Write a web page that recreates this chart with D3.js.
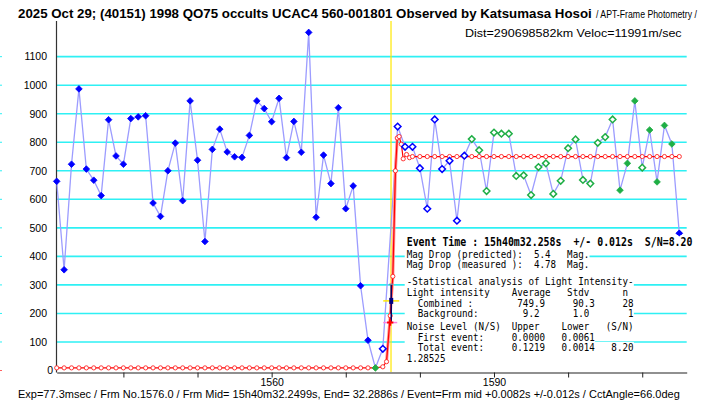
<!DOCTYPE html>
<meta charset="utf-8">
<script src="https://d3js.org/d3.v7.min.js"></script>
<style>
  body { margin: 0; background: #fff; }
  svg text { font-family: "Liberation Sans", Arial, sans-serif; fill: #000; }
  svg text.mono { font-family: "DejaVu Sans Mono", monospace; white-space: pre; }
</style>
<div id="chart"></div>
<script>
// ---- data ----
var firstFrame = 1531;
// light intensity per frame (null = event frame, drawn separately)
var intensity = [663, 353, 723, 987, 706, 667, 613, 879, 752, 723,
                 883, 889, 893, 587, 540, 700, 797, 595, 945, 737,
                 452, 775, 846, 766, 749, 747, 824, 945, 918, 872,
                 954, 746, 873, 765, 1185, 537, 755, 655, 921, 567,
                 647, 297, 106, 9, 76, null, 855, 784, 784, 709,
                 567, 880, 706, 735, 525, 753, 811, 772, 629, 834,
                 830, 830, 682, 684, 615, 713, 726, 619, 665, 779,
                 810, 668, 655, 798, 818, 880, 632, 726, 945, 711,
                 843, 661, 859, 794, 481];
var backgroundFrames = [1574];
var transitionFrames = [1575, 1577, 1578, 1579, 1580, 1581, 1582, 1583, 1584, 1585, 1586];
var combinedFirst = 1587, combinedLast = 1614;
var combinedFilled = [1607, 1608, 1609, 1611, 1612, 1613, 1614];

// fitted model: background level, combined level and the edge in between
var bgLevel = 9.2, combinedLevel = 749.9;
var modelEdge = [[1575, 13], [1575.5, 31], [1576, 192], [1576.35, 330], [1576.7, 700],
                 [1576.95, 815], [1577.2, 820], [1577.5, 793], [1577.75, 742],
                 [1578.2, 757], [1578.6, 746]];

// event frame
var eventFrame = 1576, eventOffset = 0.106;   // +0.0082s of a 77.3ms frame
var eventObs = 244, eventRange = [170, 302], eventHalf = 168;

var yTicks = [0, 100, 200, 300, 400, 500, 600, 700, 800, 900, 1000, 1100];
var xTicks = [1540, 1550, 1560, 1570, 1580, 1590, 1600, 1610];
var xLabels = [1560, 1590];

// ---- svg ----
var svg = d3.select("#chart").append("svg")
    .attr("width", 723)
    .attr("height", 405)
    .style("display", "block");
svg.append("rect").attr("width", 723).attr("height", 405).attr("fill", "#fff");

var x = d3.scaleLinear().domain([1531, 1616]).range([56.7, 686.7]);
var y = d3.scaleLinear().domain([0, 1225]).range([370.5, 21]);

// squeeze a text to a given width keeping its height
function fitText(sel, left, base, width) {
  sel.attr("x", 0).attr("y", 0);
  var w = sel.node().getComputedTextLength();
  sel.attr("transform", "translate(" + left + "," + base + ") scale(" + (width / w) + ",1)");
  return sel;
}

// gridlines
svg.append("g").selectAll("line")
  .data(yTicks.filter(function(d) { return d > 0; }))
  .enter().append("line")
    .attr("x1", x(1531)).attr("x2", x(1616))
    .attr("y1", function(d) { return y(d); })
    .attr("y2", function(d) { return y(d); })
    .attr("stroke", "#2ef0f4")
    .attr("stroke-width", 1.6);

// little marks on the left edge
svg.append("g").selectAll("line")
  .data(yTicks)
  .enter().append("line")
    .attr("x1", 0).attr("x2", 2)
    .attr("y1", function(d) { return y(d); })
    .attr("y2", function(d) { return y(d); })
    .attr("stroke", function(d) { return d == 0 ? "#ff6060" : "#2ef0f4"; })
    .attr("stroke-width", 1);

// y labels
svg.append("g").selectAll("text")
  .data(yTicks)
  .enter().append("text")
    .attr("x", function(d) { return d == 0 ? 53 : 47; })
    .attr("y", function(d) { return y(d); })
    .attr("dy", "0.36em")
    .attr("text-anchor", "end")
    .style("font-size", "10.5px")
    .text(function(d) { return d; });

// event line (yellow)
svg.append("line")
  .attr("x1", x(eventFrame + eventOffset)).attr("x2", x(eventFrame + eventOffset))
  .attr("y1", y(1225)).attr("y2", 372)
  .attr("stroke", "#ffe800")
  .attr("stroke-width", 1.2);

// axes
svg.append("line")
  .attr("x1", 56.5).attr("x2", 56.5)
  .attr("y1", y(1225)).attr("y2", 372.5)
  .attr("stroke", "#333").attr("stroke-width", 1.2);

var xAxis = svg.append("g")
  .attr("transform", "translate(0,372.5)")
  .call(d3.axisBottom(x)
    .tickValues(xTicks)
    .tickSize(5)
    .tickSizeOuter(0)
    .tickPadding(1)
    .tickFormat(function(d) { return xLabels.indexOf(d) >= 0 ? d : ""; }));
xAxis.select(".domain").attr("stroke", "#222").attr("stroke-width", 1.2);
xAxis.selectAll(".tick line").attr("stroke", "#222");
xAxis.selectAll("text").style("font-size", "10.5px").attr("font-family", null);

// observed points
var pts = intensity.map(function(v, i) { return { f: firstFrame + i, v: v }; });
var linePts = pts.filter(function(d) { return d.v !== null; });

svg.append("path")
  .datum(linePts)
  .attr("fill", "none")
  .attr("stroke", "#9c9cff")
  .attr("stroke-width", 1.3)
  .attr("d", d3.line()
    .x(function(d) { return x(d.f); })
    .y(function(d) { return y(d.v); }));

// model curve
var modelPts = d3.range(1531, 1575).map(function(f) { return [f, bgLevel]; })
  .concat(modelEdge)
  .concat(d3.range(1579, 1616).map(function(f) { return [f, combinedLevel]; }));

svg.append("path")
  .datum(modelEdge.slice(1, 6))
  .attr("fill", "none")
  .attr("stroke", "#ff9090")
  .attr("stroke-width", 3)
  .attr("d", d3.line()
    .x(function(d) { return x(d[0]); })
    .y(function(d) { return y(d[1]); }));

svg.append("path")
  .datum(modelPts)
  .attr("fill", "none")
  .attr("stroke", "#ff0000")
  .attr("stroke-width", 1.2)
  .attr("d", d3.line()
    .x(function(d) { return x(d[0]); })
    .y(function(d) { return y(d[1]); }));

svg.append("g").selectAll("circle")
  .data(modelPts)
  .enter().append("circle")
    .attr("cx", function(d) { return x(d[0]); })
    .attr("cy", function(d) { return y(d[1]); })
    .attr("r", 2.1)
    .attr("fill", "#fff")
    .attr("stroke", "#ff2020")
    .attr("stroke-width", 0.9);

// markers
function kind(f) {
  if (backgroundFrames.indexOf(f) >= 0) return "bg";
  if (transitionFrames.indexOf(f) >= 0) return "trans";
  if (f >= combinedFirst && f <= combinedLast)
    return combinedFilled.indexOf(f) >= 0 ? "combFill" : "comb";
  return "out";
}
var colorOf = { out: "#0000ff", trans: "#0000ff", bg: "#1fae45", comb: "#1fae45", combFill: "#1fae45" };
var openKinds = ["trans", "comb"];

svg.append("g").selectAll("path")
  .data(linePts)
  .enter().append("path")
    .attr("transform", function(d) { return "translate(" + x(d.f) + "," + y(d.v) + ")"; })
    .attr("d", d3.symbol().type(d3.symbolDiamond2).size(28))
    .attr("fill", function(d) { return openKinds.indexOf(kind(d.f)) >= 0 ? "#fff" : colorOf[kind(d.f)]; })
    .attr("stroke", function(d) { return colorOf[kind(d.f)]; })
    .attr("stroke-width", function(d) { return openKinds.indexOf(kind(d.f)) >= 0 ? 1.5 : 0.8; });

// event frame markers
var ex = x(eventFrame);
svg.append("line")
  .attr("x1", ex + 1).attr("x2", ex + 1)
  .attr("y1", y(eventRange[1])).attr("y2", y(eventRange[0]))
  .attr("stroke", "#000066").attr("stroke-width", 1.5);
svg.append("line")
  .attr("x1", ex - 1).attr("x2", ex + 3)
  .attr("y1", y(eventRange[1])).attr("y2", y(eventRange[1]))
  .attr("stroke", "#8080a0").attr("stroke-width", 1.5);
svg.append("line")
  .attr("x1", ex - 7).attr("x2", ex + 9)
  .attr("y1", y(eventObs)).attr("y2", y(eventObs))
  .attr("stroke", "#ffe800").attr("stroke-width", 1.5);
svg.append("rect")
  .attr("x", ex - 1).attr("y", y(eventObs) - 3)
  .attr("width", 4).attr("height", 6)
  .attr("fill", "#000080");
svg.append("line")
  .attr("x1", ex - 7).attr("x2", ex + 7)
  .attr("y1", y(eventHalf)).attr("y2", y(eventHalf))
  .attr("stroke", "#ff80e0").attr("stroke-width", 1.5);
svg.append("path")
  .attr("transform", "translate(" + ex + "," + y(eventHalf) + ")")
  .attr("d", d3.symbol().type(d3.symbolCross).size(22))
  .attr("fill", "#ff0000");

// ---- texts ----
fitText(svg.append("text")
  .style("font-size", "12px").style("font-weight", "bold")
  .text("2025 Oct 29; (40151) 1998 QO75 occults UCAC4 560-001801 Observed by Katsumasa Hosoi"),
  18, 18, 574);
fitText(svg.append("text")
  .style("font-size", "11.5px")
  .text("/ APT-Frame Photometry /"),
  596, 18, 101);
fitText(svg.append("text")
  .style("font-size", "11px")
  .text("Dist=290698582km Veloc=11991m/sec"),
  465, 37, 217);
fitText(svg.append("text")
  .style("font-size", "10.5px")
  .text("Exp=77.3msec / Frm No.1576.0 / Frm Mid= 15h40m32.2499s,  End= 32.2886s / Event=Frm mid +0.0082s +/-0.012s / CctAngle=66.0deg"),
  18, 398, 662);

// result box
var annoX = 406.7, charW = 5.54;
var annoLines = [
  { y: 254.3, t: "Mag Drop (predicted):  5.4   Mag." },
  { y: 264.7, t: "Mag Drop (measured ):  4.78  Mag." },
  { y: 281.7, t: "-Statistical analysis of Light Intensity-" },
  { y: 292.5, t: "Light intensity    Average   Stdv      n" },
  { y: 303.2, t: "  Combined :        749.9     90.3     28" },
  { y: 313.9, t: "  Background:        9.2      1.0       1" },
  { y: 326.5, t: "Noise Level (N/S)  Upper    Lower   (S/N)" },
  { y: 337.2, t: "  First event:     0.0000   0.0061" },
  { y: 347.9, t: "  Total event:     0.1219   0.0014   8.20" },
  { y: 358.6, t: "1.28525" }
];

var anno = svg.append("g");
anno.append("rect")
  .attr("x", annoX - 2).attr("y", 235)
  .attr("width", 290).attr("height", 14)
  .attr("fill", "#fff");
anno.selectAll("rect.bg")
  .data(annoLines)
  .enter().append("rect")
    .attr("class", "bg")
    .attr("x", annoX - 2)
    .attr("y", function(d) { return d.y - 6; })
    .attr("width", function(d) { return d.t.length * charW + 2; })
    .attr("height", 11)
    .attr("fill", "#fff");
anno.selectAll("text.mono")
  .data(annoLines)
  .enter().append("text")
    .attr("class", "mono")
    .attr("xml:space", "preserve")
    .attr("dy", "0.35em")
    .style("font-size", "10px")
    .text(function(d) { return d.t; })
    .each(function(d) { fitText(d3.select(this), annoX, d.y, d.t.length * charW); });
fitText(anno.append("text")
  .attr("class", "mono")
  .attr("xml:space", "preserve")
  .attr("dy", "0.35em")
  .style("font-size", "11.5px").style("font-weight", "bold")
  .text("Event Time : 15h40m32.258s  +/- 0.012s  S/N=8.20"),
  annoX, 242, 286);

// last point sits over the box
svg.append("path")
  .attr("transform", "translate(" + x(linePts[linePts.length - 1].f) + "," + y(linePts[linePts.length - 1].v) + ")")
  .attr("d", d3.symbol().type(d3.symbolDiamond2).size(28))
  .attr("fill", "#0000ff");
</script>
